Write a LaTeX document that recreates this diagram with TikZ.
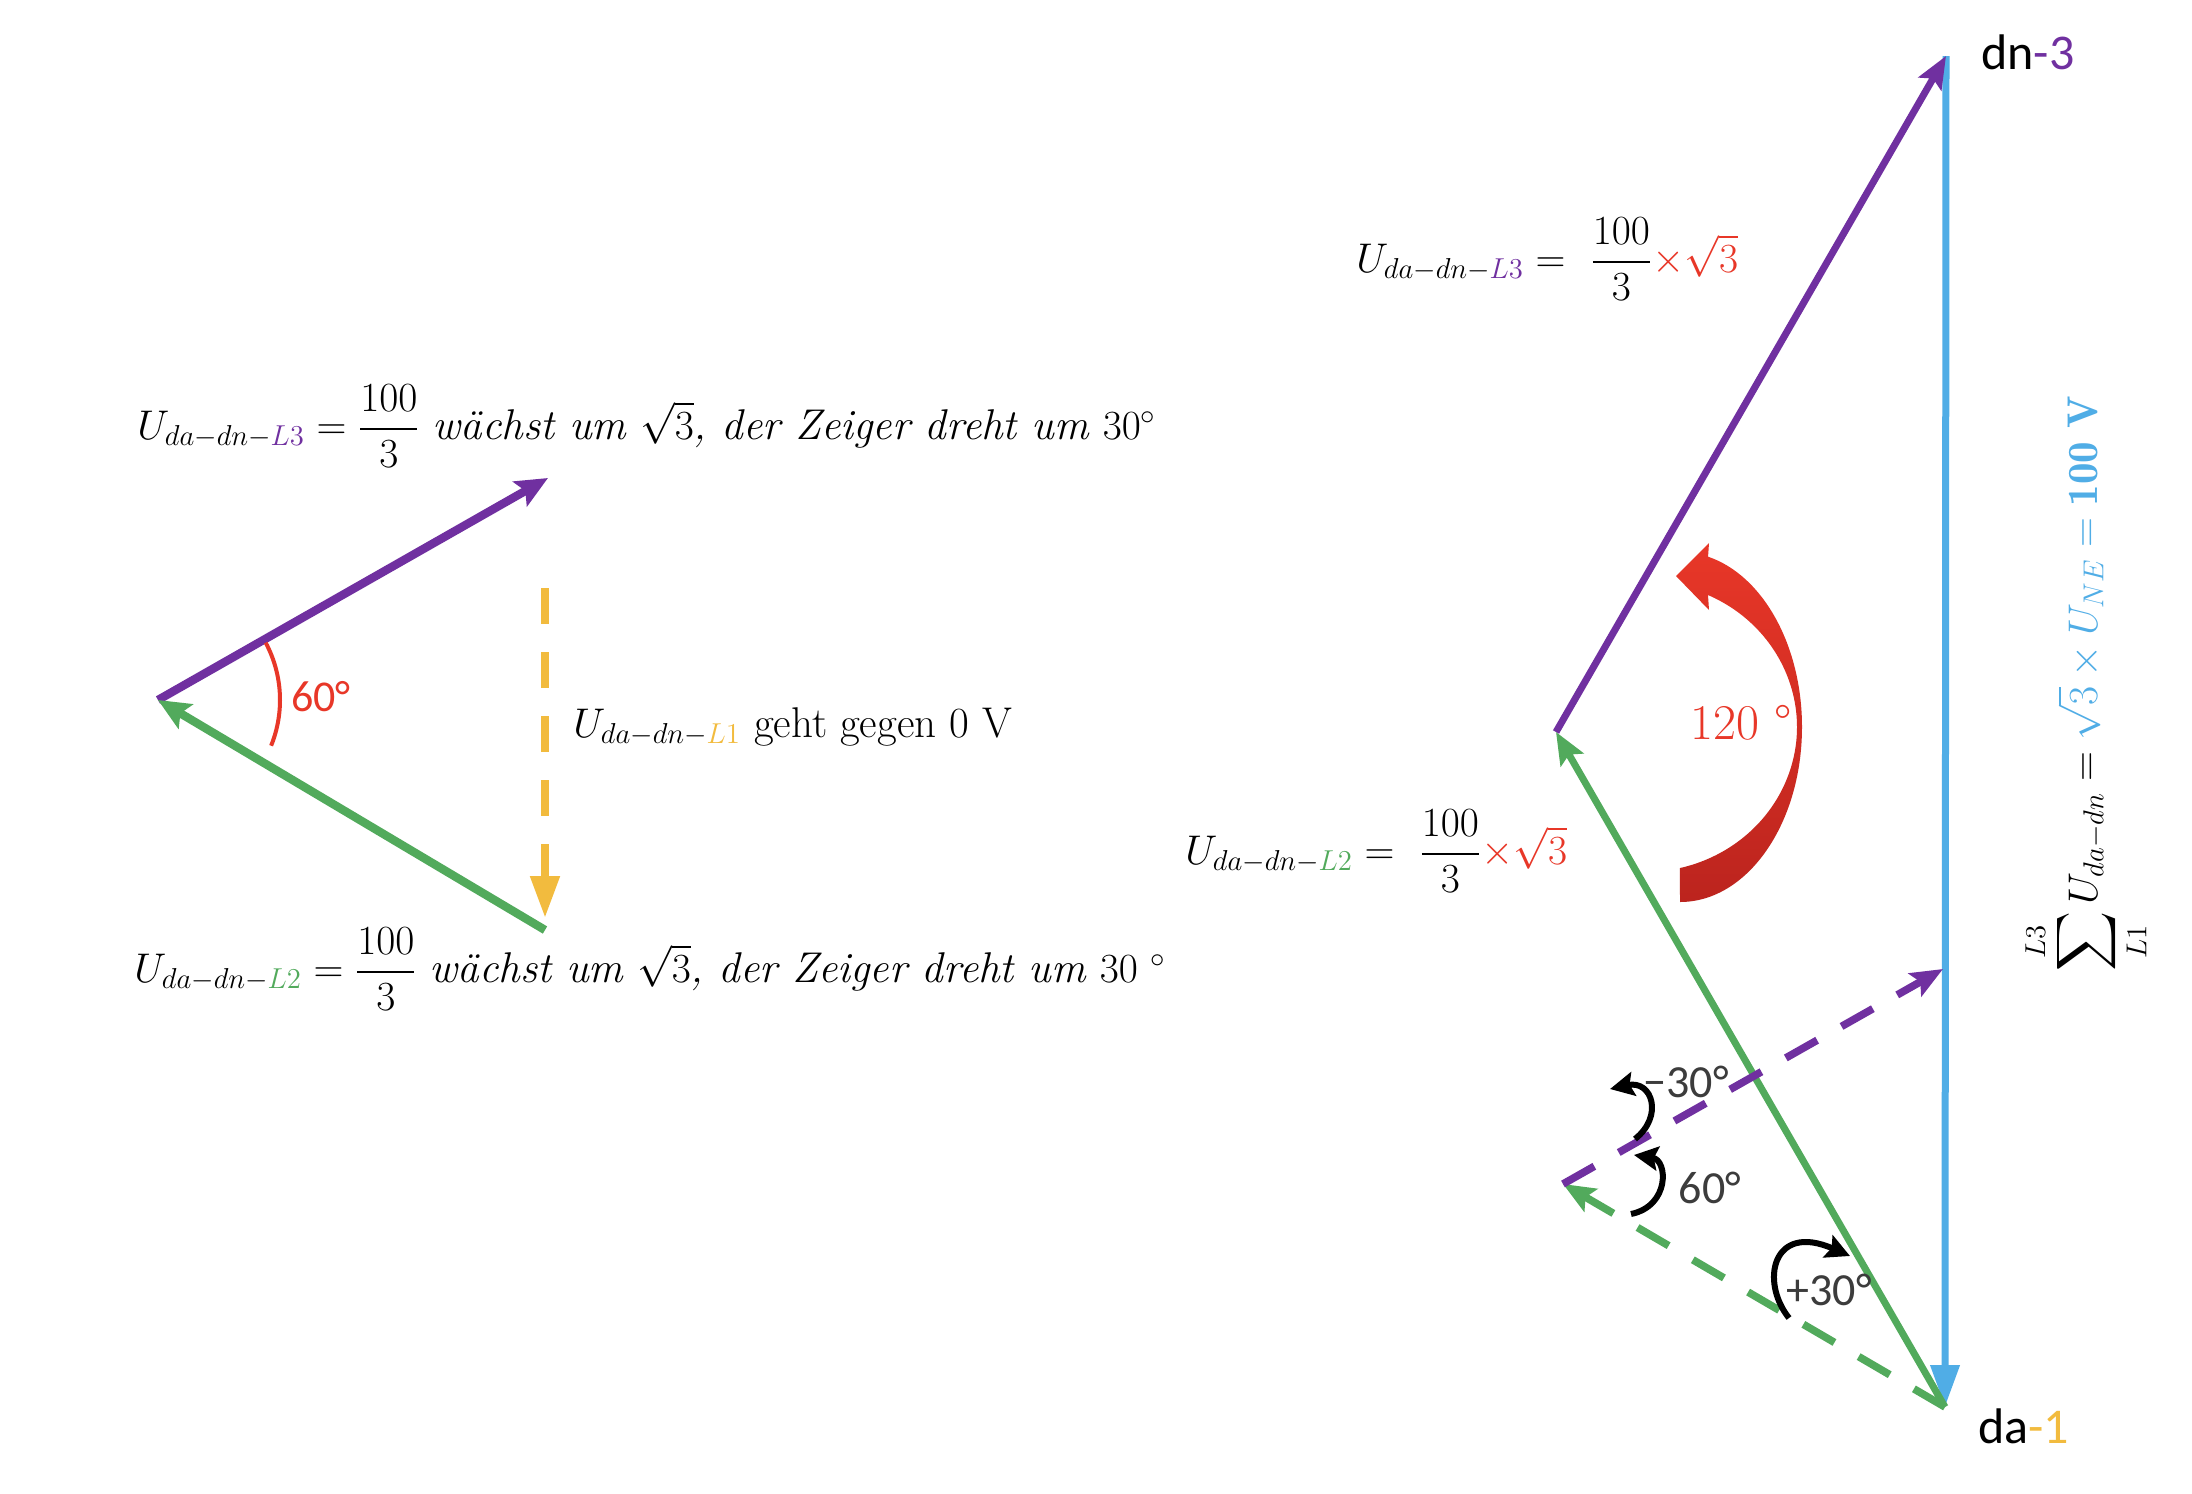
\documentclass[tikz,border=0pt]{standalone}
\usepackage{fontspec}
\usepackage{amsmath}
\usetikzlibrary{arrows.meta}
\newfontfamily\calib{Carlito}
\definecolor{cPurple}{RGB}{112,48,160}
\definecolor{cGreen}{RGB}{82,170,92}
\definecolor{cBlue}{RGB}{80,173,230}
\definecolor{cYellow}{RGB}{242,187,62}
\definecolor{cRed}{RGB}{232,55,40}
\definecolor{cDarkRed}{RGB}{188,36,30}
\definecolor{cGrey}{RGB}{60,60,60}
\begin{document}
\begin{tikzpicture}[x=0.5pt,y=-0.5pt,
  mathtxt/.style={font=\fontsize{21.5}{25}\selectfont, inner sep=0pt},
  sanstxt/.style={font=\calib\fontsize{23}{27}\selectfont, inner sep=0pt},
  lvec/.style={line width=4.2pt, line cap=butt, -{Stealth[length=16pt,width=14pt,inset=3pt]}},
  rvec/.style={line width=3.5pt, -{Stealth[length=16pt,width=13pt,inset=3pt]}},
  dvec/.style={line width=3.8pt, dash pattern=on 18pt off 14pt, -{Stealth[length=16pt,width=13pt,inset=3pt]}},
  tvec/.style={line width=3.5pt, -{Triangle[length=21pt,width=14pt]}},
  blk/.style={line width=3pt, black, -{Stealth[length=12pt,width=12pt,inset=2pt]}}]
\fill[white] (0,0) rectangle (2192,1494);
\useasboundingbox (0,0) rectangle (2192,1494);

% ---------- left diagram ----------
\coordinate (V) at (158,700);
\coordinate (P3) at (548,478);
\coordinate (G2) at (545,930);
\coordinate (Y1) at (545,588);
\coordinate (Y2) at (545,918);

\draw[lvec, cPurple] (V) -- (P3);
\draw[lvec, cGreen] (G2) -- (V);
\draw[cYellow, line width=4pt, dash pattern=on 18pt off 14pt, -{Triangle[length=21pt,width=14pt]}] (Y1) -- (Y2);
\draw[cRed, line width=2pt] ([shift={(-28:122)}]V) arc[start angle=-28, end angle=22, radius=122];
\node[sanstxt, text=cRed, font=\calib\fontsize{22}{26}\selectfont] (a60) at (321,697) {60°};

\node[mathtxt, anchor=west] (tl) at (137,426)
  {$U_{da-dn-\textcolor{cPurple}{L3}} = \dfrac{100}{3}$\ \textit{wächst um} $\sqrt{3}$\textit{, der Zeiger dreht um} $30^\circ$};
\node[mathtxt, anchor=west] (bl) at (134,969)
  {$U_{da-dn-\textcolor{cGreen}{L2}} = \dfrac{100}{3}$\ \textit{wächst um} $\sqrt{3}$\textit{, der Zeiger dreht um} $30~{}^\circ$};
\node[mathtxt, anchor=west] (ml) at (573,727)
  {$U_{da-dn-\textcolor{cYellow}{L1}}$ geht gegen 0 V};

% ---------- right diagram ----------
\coordinate (DN) at (1946,56);
\coordinate (DA) at (1945,1407);
\coordinate (M) at (1556,732);
\coordinate (Q) at (1563,1184);
\coordinate (B) at (1943,969);

\draw[tvec, cBlue] (DN) -- (DA);
\draw[rvec, cPurple] (M) -- (DN);
\draw[rvec, cGreen] (DA) -- (M);
\draw[dvec, cGreen] (DA) -- (Q);
\draw[dvec, cPurple] (Q) -- (B);

% 120 degree curved arrow
\shade[top color=cRed, bottom color=cDarkRed]
  (1680,902) arc[start angle=90, end angle=-76.7, x radius=122, y radius=175]
  -- (1709,543) -- (1676,576) -- (1709,610) -- (1708,595)
  arc[start angle=-65.5, end angle=76.7, x radius=152, y radius=145] -- cycle;
\node[font=\fontsize{25}{29}\selectfont, text=cRed, inner sep=0pt] (a120) at (1741,723) {120 °};

% small black rotation arrows
\draw[blk] (1635,1139) .. controls (1664,1116) and (1652,1080) .. (1610,1089);
\draw[blk] (1631,1214) .. controls (1670,1206) and (1668,1160) .. (1634,1155);
\draw[blk] (1789,1318) .. controls (1760,1282) and (1772,1222) .. (1850,1256);
\node[sanstxt, text=cGrey] (m30) at (1686,1082) {−30°};
\node[sanstxt, text=cGrey] (p60) at (1710,1188) {60°};
\node[sanstxt, text=cGrey] (p30) at (1829,1290) {+30°};

\node[mathtxt, anchor=west, font=\fontsize{22.5}{26}\selectfont] (rl3) at (1356,259)
  {$U_{da-dn-\textcolor{cPurple}{L3}} =\ \dfrac{100}{3}\textcolor{cRed}{\times\sqrt{3}}$};
\node[mathtxt, anchor=west, font=\fontsize{22.5}{26}\selectfont] (rl2) at (1185,851)
  {$U_{da-dn-\textcolor{cGreen}{L2}} =\ \dfrac{100}{3}\textcolor{cRed}{\times\sqrt{3}}$};

\node[sanstxt, anchor=west, font=\calib\fontsize{25}{29}\selectfont] (ldn) at (1981,52) {dn\textcolor{cPurple}{-3}};
\node[sanstxt, anchor=west, font=\calib\fontsize{25}{29}\selectfont] (lda) at (1978,1426) {da\textcolor{cYellow}{-1}};

\node[mathtxt, rotate=90] (sum) at (2086,684)
  {$\displaystyle\sum_{L1}^{L3} U_{da-dn} = \textcolor{cBlue}{\sqrt{3}\times U_{NE} = \mathbf{100\ V}}$};
\end{tikzpicture}
\end{document}
